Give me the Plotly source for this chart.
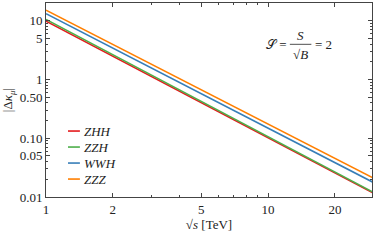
import plotly.graph_objects as go

energies = [1, 2, 5, 10, 20, 30]
names = ["ZHH", "ZZH", "WWH", "ZZZ"]
colors = ["#e41a1c", "#4daf4a", "#377eb8", "#ff7f00"]
zhh = [9.8, 2.48, 0.403, 0.1019, 0.0258, 0.01153]
zzh = [10.5, 2.62, 0.421, 0.1057, 0.0265, 0.0118]
wwh = [13.2, 3.43, 0.574, 0.1486, 0.0385, 0.01746]
zzz = [15.1, 3.94, 0.667, 0.174, 0.0455, 0.0207]
series = [zhh, zzh, wwh, zzz]

xtick_vals = [1, 2, 5, 10, 20]
xtick_text = ["1", "2", "5", "10", "20"]
xminor_vals = [3, 4, 6, 7, 8, 9, 30]
ytick_vals = [0.01, 0.05, 0.1, 0.5, 1, 5, 10]
ytick_text = ["0.01", "0.05", "0.10", "0.50", "1", "5", "10"]
yminor_vals = [0.02, 0.03, 0.04, 0.06, 0.07, 0.08, 0.09,
               0.2, 0.3, 0.4, 0.6, 0.7, 0.8, 0.9,
               2, 3, 4, 6, 7, 8, 9, 20]

FONT = "Liberation Serif, DejaVu Serif, serif"
TXT = "#222"
fig = go.Figure()
for name, col, vals in zip(names, colors, series):
    fig.add_trace(go.Scatter(x=energies, y=vals, mode="lines", name=name,
                             line=dict(color=col, width=1.6), showlegend=False,
                             hoverinfo="skip"))

axcol = "#444444"
common = dict(showgrid=False, zeroline=False, showline=True, linecolor=axcol, linewidth=1,
              mirror="allticks", ticks="inside", ticklen=4, tickcolor=axcol, automargin=False,
              tickfont=dict(family=FONT, size=13, color=TXT))
fig.update_xaxes(type="log", range=[0, 1.468], tickmode="array", tickvals=xtick_vals,
                 ticktext=xtick_text,
                 minor=dict(tickmode="array", tickvals=xminor_vals, ticks="inside", ticklen=2, tickcolor=axcol),
                 title=dict(text="√<i>s</i> [TeV]", font=dict(family=FONT, size=13, color=TXT), standoff=0),
                 **common)
fig.update_yaxes(type="log", range=[-2, 1.301], tickmode="array", tickvals=ytick_vals,
                 ticktext=ytick_text,
                 minor=dict(tickmode="array", tickvals=yminor_vals, ticks="inside", ticklen=2, tickcolor=axcol),
                 title=dict(text="|Δ<i>κ</i><sub><i>μ</i></sub>|", font=dict(family=FONT, size=13, color=TXT), standoff=4),
                 **common)

# legend (manual, short swatches)
for i, (name, col) in enumerate(zip(names, colors)):
    yp = 0.340 - i * 0.0825
    fig.add_shape(type="line", xref="paper", yref="paper", x0=0.0675, x1=0.104, y0=yp, y1=yp,
                  line=dict(color=col, width=1.6))
    fig.add_annotation(xref="paper", yref="paper", x=0.110, y=yp, xanchor="left", yanchor="middle",
                       text="<i>" + name + "</i>", showarrow=False,
                       font=dict(family=FONT, size=13, color=TXT))

# formula S = S / sqrt(B) = 2
ff = dict(family=FONT, size=13, color=TXT)
fig.add_annotation(xref="paper", yref="paper", x=0.745, y=0.787, xanchor="right", yanchor="middle",
                   text="𝒮 =", showarrow=False, font=ff)
fig.add_annotation(xref="paper", yref="paper", x=0.78, y=0.83, xanchor="center", yanchor="middle",
                   text="<i>S</i>", showarrow=False, font=ff)
fig.add_shape(type="line", xref="paper", yref="paper", x0=0.748, x1=0.814, y0=0.787, y1=0.787,
              line=dict(color=TXT, width=0.8))
fig.add_annotation(xref="paper", yref="paper", x=0.78, y=0.735, xanchor="center", yanchor="middle",
                   text="√<i>B</i>", showarrow=False, font=ff)
fig.add_annotation(xref="paper", yref="paper", x=0.818, y=0.787, xanchor="left", yanchor="middle",
                   text="= 2", showarrow=False, font=ff)

fig.update_layout(width=374, height=240, margin=dict(l=46, r=2, t=3, b=43),
                  paper_bgcolor="white", plot_bgcolor="white", hovermode=False)
fig.write_html("out.html", config={"displayModeBar": False},
               post_script="document.body.style.margin='0';")
